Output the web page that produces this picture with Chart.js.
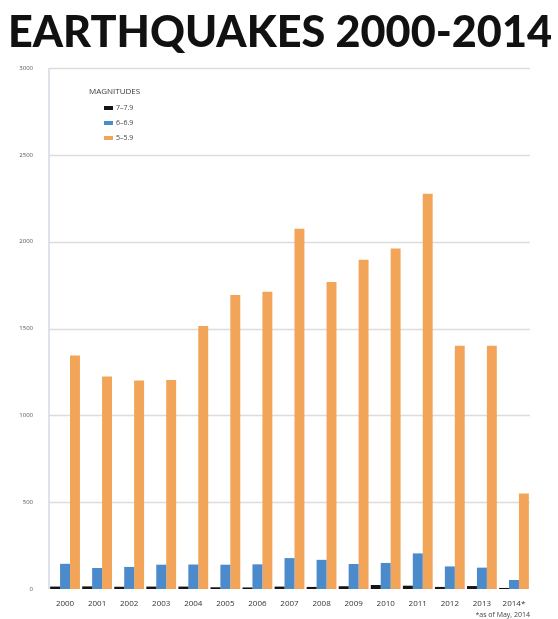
<!DOCTYPE html>
<html>
<head>
<meta charset="utf-8">
<title>Earthquakes 2000-2014</title>
<script src="https://cdn.jsdelivr.net/npm/chart.js@4.4.1/dist/chart.umd.min.js"></script>
<style>
  html, body { margin: 0; padding: 0; background: #fff; }
  #chart { display: block; }
</style>
</head>
<body>
<canvas id="chart" width="558" height="619"></canvas>
<script>
const years = ['2000', '2001', '2002', '2003', '2004', '2005', '2006', '2007',
               '2008', '2009', '2010', '2011', '2012', '2013', '2014*'];
const yTicks = [0, 500, 1000, 1500, 2000, 2500, 3000];

// counts per magnitude band
const mag7 = [14, 15, 13, 14, 14, 10, 9, 14, 12, 16, 23, 19, 12, 17, 6];
const mag6 = [145, 121, 127, 140, 141, 140, 142, 178, 168, 144, 150, 205, 130, 123, 52];
const mag5 = [1344, 1224, 1201, 1203, 1515, 1693, 1712, 2074, 1768, 1896, 1960, 2276, 1401, 1400, 550];

const bandLabels = ['7–7.9', '6–6.9', '5–5.9'];
const bandColors = ['#151515', '#4b8acb', '#f2a558'];
const headline = 'EARTHQUAKES 2000-2014';
const legendTitle = 'MAGNITUDES';
const footnote = '*as of May, 2014';

// big heading across the top, stretched to the page width
const headlinePlugin = {
    id: 'headline',
    afterDraw(chart) {
        const ctx = chart.ctx;
        ctx.save();
        ctx.font = '900 44px Lato, "Open Sans", sans-serif';
        ctx.fillStyle = '#111';
        ctx.textBaseline = 'alphabetic';
        const w = ctx.measureText(headline).width;
        ctx.translate(8, 47);
        ctx.scale(544 / w, 1);
        ctx.fillText(headline, 0, 0);
        ctx.restore();
    }
};

// horizontal grid and the left axis line, kept inside the plot area
const plotGrid = {
    id: 'plotGrid',
    beforeDatasetsDraw(chart) {
        const { ctx, chartArea: area, scales: { y } } = chart;
        ctx.save();
        ctx.lineWidth = 1.5;
        ctx.strokeStyle = '#dcdcdc';
        y.ticks.forEach(t => {
            if (t.value === 0) return;
            const py = Math.round(y.getPixelForValue(t.value)) + 0.5;
            ctx.beginPath();
            ctx.moveTo(area.left, py);
            ctx.lineTo(area.right, py);
            ctx.stroke();
        });
        ctx.strokeStyle = '#d3d8e4';
        ctx.beginPath();
        ctx.moveTo(area.left, area.top);
        ctx.lineTo(area.left, area.bottom);
        ctx.stroke();
        ctx.restore();
    }
};

// legend drawn inside the plot, top left
const insideLegend = {
    id: 'insideLegend',
    afterDraw(chart) {
        const ctx = chart.ctx;
        ctx.save();
        ctx.fillStyle = '#3a3a3a';
        ctx.font = '8px "Open Sans", sans-serif';
        ctx.textBaseline = 'middle';
        ctx.fillText(legendTitle, 89, 92);
        chart.data.datasets.forEach((ds, i) => {
            const y = 108 + i * 15;
            ctx.fillStyle = ds.backgroundColor;
            ctx.fillRect(104, y - 2, 9, 4);
            ctx.fillStyle = '#444';
            ctx.font = '7px "Open Sans", sans-serif';
            ctx.fillText(ds.label, 116, y);
        });
        ctx.restore();
    }
};

const ctx = document.getElementById('chart').getContext('2d');
new Chart(ctx, {
    type: 'bar',
    data: {
        labels: years,
        datasets: [
            { label: bandLabels[0], data: mag7, backgroundColor: bandColors[0] },
            { label: bandLabels[1], data: mag6, backgroundColor: bandColors[1] },
            { label: bandLabels[2], data: mag5, backgroundColor: bandColors[2] }
        ]
    },
    options: {
        responsive: false,
        animation: false,
        layout: { padding: { top: 68, right: 28, bottom: 0, left: 0 } },
        datasets: { bar: { categoryPercentage: 0.93, barPercentage: 1.0 } },
        scales: {
            x: {
                grid: { display: false },
                border: { display: false },
                ticks: {
                    color: '#333',
                    font: { family: '"Open Sans", sans-serif', size: 8 },
                    padding: 2,
                    maxRotation: 0,
                    autoSkip: false
                },
                title: {
                    display: true,
                    text: footnote,
                    align: 'end',
                    color: '#444',
                    font: { family: '"Open Sans", sans-serif', size: 7 },
                    padding: { top: 0, bottom: 0 }
                },
                afterFit(scale) { scale.height = 30; }
            },
            y: {
                min: 0,
                max: 3000,
                afterBuildTicks(scale) { scale.ticks = yTicks.map(v => ({ value: v })); },
                grid: { display: false },
                border: { display: false },
                ticks: {
                    color: '#555',
                    font: { family: '"Open Sans", sans-serif', size: 6 },
                    padding: 8,
                    callback: v => String(v)
                },
                afterFit(scale) { scale.width = 49; }
            }
        },
        plugins: {
            legend: { display: false },
            tooltip: { enabled: false }
        }
    },
    plugins: [plotGrid, insideLegend, headlinePlugin]
});
</script>
</body>
</html>
